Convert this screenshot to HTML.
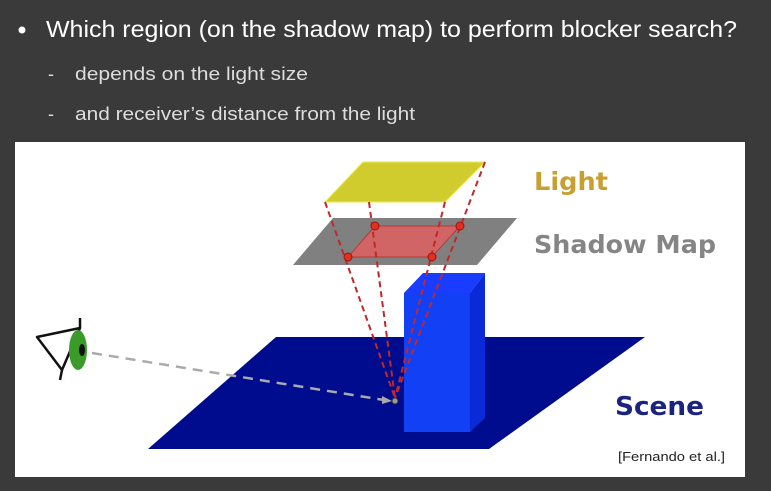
<!DOCTYPE html>
<html><head><meta charset="utf-8"><style>
html,body{margin:0;padding:0;background:#3a3a3a;}
svg{display:block;}
</style></head><body>
<svg width="771" height="491" viewBox="0 0 771 491" xmlns="http://www.w3.org/2000/svg">
<rect width="771" height="491" fill="#3a3a3a"/>
<circle cx="22" cy="30" r="3.5" fill="#fff"/>
<text x="46" y="37" font-family="Liberation Sans, sans-serif" font-size="23" fill="#fff" textLength="691" lengthAdjust="spacingAndGlyphs">Which region (on the shadow map) to perform blocker search?</text>
<text x="48" y="80" font-family="Liberation Sans, sans-serif" font-size="18" fill="#ddd">-</text>
<text x="75" y="80" font-family="Liberation Sans, sans-serif" font-size="18" fill="#ddd" textLength="233" lengthAdjust="spacingAndGlyphs">depends on the light size</text>
<text x="48" y="120" font-family="Liberation Sans, sans-serif" font-size="18" fill="#ddd">-</text>
<text x="75" y="120" font-family="Liberation Sans, sans-serif" font-size="18" fill="#ddd" textLength="340" lengthAdjust="spacingAndGlyphs">and receiver’s distance from the light</text>
<rect x="15" y="142" width="730" height="335" fill="#fff"/>
<polygon points="276,337 645,337 489,449 148,449" fill="#000c8e"/>
<polygon points="404,293 423,273 485,273 470,293" fill="#1a3cff"/>
<polygon points="470,293 485,273 485,418 470,432" fill="#0a2ad8"/>
<rect x="404" y="293" width="66" height="139" fill="#1240f5"/>
<polygon points="363,162 485,162 445,202 325,202" fill="#d1cc2e" stroke="#eeea50" stroke-width="1"/>
<polygon points="333,218 517,218 477,265 293,265" fill="#808080"/>
<polygon points="375,226 460,226 432,257 348,257" fill="#e06060" opacity="0.85" stroke="#c0302a" stroke-width="1"/>
<g stroke="#c0282a" stroke-width="2" stroke-dasharray="6,4" fill="none">
<line x1="325" y1="202" x2="395" y2="398"/>
<line x1="369" y1="202" x2="395" y2="398"/>
<line x1="445" y1="202" x2="395" y2="398"/>
<line x1="485" y1="162" x2="395" y2="398"/>
</g>
<g fill="#e03020" stroke="#a01010" stroke-width="1">
<circle cx="375" cy="226" r="4"/><circle cx="460" cy="226" r="4"/>
<circle cx="432" cy="257" r="4"/><circle cx="348" cy="257" r="4"/>
</g>
<line x1="92" y1="353" x2="384" y2="400" stroke="#aaa" stroke-width="2.5" stroke-dasharray="10,7"/>
<polygon points="382,396 392,401 382,404" fill="#aaa"/>
<circle cx="395" cy="401" r="3" fill="#999" stroke="#333" stroke-width="1"/>
<path d="M37,337 L80,328 L62,370 Z" fill="#fff" stroke="#111" stroke-width="2.5" stroke-linejoin="round"/>
<path d="M80,318 L80,328 M62,370 L60,380" stroke="#111" stroke-width="2.5"/>
<ellipse cx="78" cy="350" rx="9" ry="20" fill="#3a9a2a"/>
<ellipse cx="82" cy="350" rx="3" ry="6" fill="#111"/>
<text x="534" y="190" font-family="DejaVu Sans, sans-serif" font-weight="bold" font-size="25" fill="#c8a032" textLength="74" lengthAdjust="spacingAndGlyphs">Light</text>
<text x="534" y="253" font-family="DejaVu Sans, sans-serif" font-weight="bold" font-size="25" fill="#858585" textLength="182" lengthAdjust="spacingAndGlyphs">Shadow Map</text>
<text x="615" y="415" font-family="DejaVu Sans, sans-serif" font-weight="bold" font-size="26" fill="#1a237e" textLength="89" lengthAdjust="spacingAndGlyphs">Scene</text>
<text x="618" y="461" font-family="Liberation Sans, sans-serif" font-size="13" fill="#222" textLength="107" lengthAdjust="spacingAndGlyphs">[Fernando et al.]</text>
</svg>
</body></html>
